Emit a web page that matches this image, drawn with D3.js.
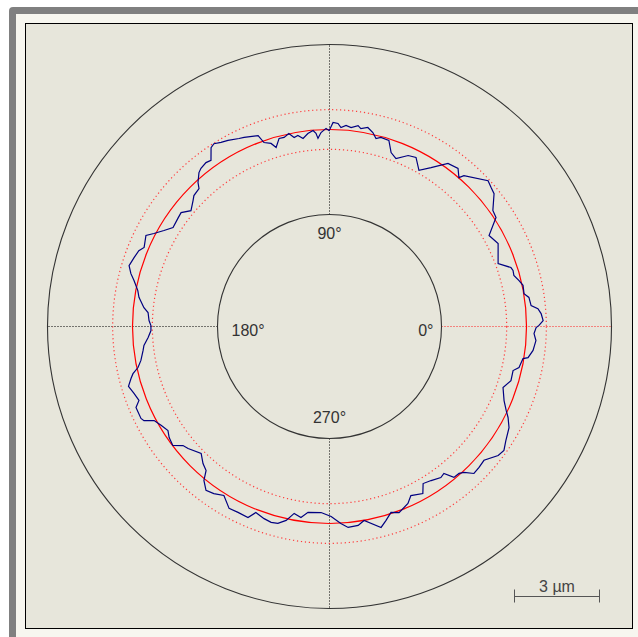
<!DOCTYPE html>
<html>
<head>
<meta charset="utf-8">
<script src="https://cdn.jsdelivr.net/npm/d3@7"></script>
<style>
  html, body { margin: 0; padding: 0; background: #fff; }
  svg { display: block; }
</style>
</head>
<body>
<div id="chart"></div>
<script>
// roundness profile, angle in degrees (ccw from 0°) and deviation in µm
const profileAngle = [
  0.3, 1.6, 3.5, 4.9, 5.9, 8.3, 9.6, 12.0, 13.6, 15.5, 17.0, 18.0, 20.5, 26.2, 29.7,
  33.2, 35.4, 38.9, 40.7, 42.6, 48.3, 49.0, 50.9, 54.0, 57.4, 60.2, 62.9, 65.3, 68.4,
  70.5, 72.3, 74.8, 76.1, 77.4, 79.1, 81.0, 81.9, 83.8, 85.3, 86.7, 87.6, 89.0, 90.1,
  91.0, 92.5, 93.5, 94.0, 94.8, 96.4, 98.0, 99.4, 100.6, 101.9, 103.5, 105.0, 106.6,
  107.7, 109.6, 110.5, 114.3, 115.7, 118.6, 120.5, 122.3, 123.5, 125.5, 127.0, 129.1,
  130.3, 132.4, 133.4, 136.0, 137.3, 140.1, 142.5, 144.5, 147.7, 149.9, 152.1, 153.6,
  156.9, 158.3, 160.6, 163.1, 165.1, 166.8, 169.4, 171.3, 174.2, 175.6, 178.1, 179.7,
  181.3, 183.5, 185.8, 187.3, 190.2, 192.1, 193.5, 194.7, 196.6, 198.9, 201.2, 202.7,
  206.0, 206.9, 208.2, 210.4, 212.8, 214.7, 217.2, 219.1, 220.8, 224.7, 227.3, 229.4,
  230.8, 233.0, 235.3, 238.0, 241.1, 243.8, 246.9, 248.4, 251.2, 253.4, 255.3, 257.4,
  259.3, 261.5, 263.4, 267.4, 270.5, 273.3, 275.3, 278.2, 280.1, 284.4, 286.2, 288.3,
  290.5, 293.9, 295.7, 299.2, 300.8, 303.4, 306.4, 307.9, 309.5, 311.4, 312.7, 314.5,
  316.7, 319.1, 322.6, 324.6, 327.1, 330.6, 333.0, 334.6, 337.0, 340.6, 343.4, 346.5,
  347.8, 350.6, 351.1, 353.3, 356.1, 358.0, 359.7
];
const profileDev = [
  0.44, 0.59, 0.53, 0.43, 0.20, 0.16, 0.01, 0.03, -0.07, -0.20, -0.18, -0.22, -0.60, -0.32, -0.47,
  0.07, 0.12, 0.51, 0.57, 0.65, 0.18, 0.01, 0.24, 0.16, -0.30, -0.60, -0.25, -0.31, -0.58,
  -0.44, -0.06, -0.04, -0.12, 0.06, 0.20, 0.12, 0.21, 0.11, 0.17, 0.08, 0.22, 0.25, -0.04,
  0.04, -0.10, -0.30, -0.12, -0.01, -0.10, -0.25, -0.12, -0.17, 0.01, -0.09, -0.08, -0.36,
  -0.17, -0.06, 0.24, 0.37, 0.41, 0.53, 0.59, 0.68, 0.62, 0.25, 0.29, 0.24,
  0.17, -0.07, -0.25, -0.30, -0.40, -0.58, -0.35, -0.38, -0.42, -0.20, 0.06, 0.28,
  0.16, 0.29, 0.36, 0.44, 0.30, 0.13, -0.07, -0.15, -0.37, -0.53, -0.58, -0.65,
  -0.65, -0.54, -0.37, -0.32, -0.19, -0.04, 0.18, 0.29, 0.45, 0.34, 0.26, 0.45,
  0.45, 0.39, 0.07, -0.06, -0.17, -0.07, -0.01, -0.29, -0.36, -0.58, -0.37, -0.26,
  0.06, 0.29, 0.22, 0.08, 0.38, 0.36, 0.38, 0.11, 0.21, 0.26, 0.23, 0.06,
  -0.24, -0.14, -0.35, -0.38, -0.25, 0.01, 0.17, 0.14, 0.00, 0.37, 0.18, -0.04,
  0.06, -0.12, -0.33, -0.20, -0.50, -0.44, -0.33, -0.38, -0.05, -0.04, 0.05, 0.32,
  0.30, 0.26, 0.54, 0.60, 0.46, 0.32, 0.12, -0.05, -0.26, -0.46, -0.27, -0.29,
  -0.11, -0.03, 0.14, 0.28, 0.35, 0.27, 0.34
];

const ringValues = [-3, 3];          // black circles, µm
const bandValues = [-0.7, 0.7];      // red dotted circles, µm
const axisAngles = [0, 90, 180, 270];
const axisLabels = ["0°", "90°", "180°", "270°"];
const scaleBarValue = 3;             // µm
const scaleBarLabel = "3 µm";

const width = 638, height = 637;
const cx = 329.5, cy = 326.5;

const svg = d3.select("#chart").append("svg")
  .attr("width", width)
  .attr("height", height);

// window frame
svg.append("rect")
  .attr("x", 9).attr("y", 7)
  .attr("width", width).attr("height", height)
  .attr("rx", 4)
  .attr("fill", "#808080");
svg.append("rect")
  .attr("x", 16).attr("y", 14)
  .attr("width", width).attr("height", height)
  .attr("fill", "#f7f6ef");
svg.append("rect")
  .attr("x", 25.5).attr("y", 23.5)
  .attr("width", 607).attr("height", 605)
  .attr("fill", "#e7e6db")
  .attr("stroke", "#000")
  .attr("stroke-width", 1);

// radial scale: µm deviation -> px radius
const r = d3.scaleLinear().domain([-3, 3]).range([112, 282]);

const g = svg.append("g").attr("transform", `translate(${cx},${cy})`);

const toRad = a => (90 - a) * Math.PI / 180;

// dotted axis lines between the inner and outer circle
g.selectAll(".axis")
  .data(axisAngles)
  .enter().append("line")
  .attr("class", "axis")
  .attr("x1", d => r(ringValues[0]) * Math.cos(d * Math.PI / 180))
  .attr("y1", d => -r(ringValues[0]) * Math.sin(d * Math.PI / 180))
  .attr("x2", d => r(ringValues[1]) * Math.cos(d * Math.PI / 180))
  .attr("y2", d => -r(ringValues[1]) * Math.sin(d * Math.PI / 180))
  .attr("stroke", d => d === 0 ? "#ff2020" : "#000")
  .attr("stroke-width", 1)
  .attr("stroke-dasharray", "1,2");

// black limit circles
g.selectAll(".ring")
  .data(ringValues)
  .enter().append("circle")
  .attr("class", "ring")
  .attr("r", d => r(d))
  .attr("fill", "none")
  .attr("stroke", "#333")
  .attr("stroke-width", 1.1);

// tolerance band
g.selectAll(".band")
  .data(bandValues)
  .enter().append("circle")
  .attr("class", "band")
  .attr("r", d => r(d))
  .attr("fill", "none")
  .attr("stroke", "#ff3c3c")
  .attr("stroke-width", 1.2)
  .attr("stroke-dasharray", "1.2,2.8");

// reference circle
g.append("circle")
  .attr("r", r(0))
  .attr("fill", "none")
  .attr("stroke", "#ff0000")
  .attr("stroke-width", 1.2);

// measured profile
const profile = profileAngle.map((a, i) => ({angle: a, dev: profileDev[i]}));
const line = d3.lineRadial()
  .angle(d => toRad(d.angle))
  .radius(d => r(d.dev))
  .curve(d3.curveLinearClosed);

g.append("path")
  .datum(profile)
  .attr("d", line)
  .attr("fill", "none")
  .attr("stroke", "#000080")
  .attr("stroke-width", 1.2);

// angle labels inside the inner circle
const rIn = r(ringValues[0]);
const labelPos = [
  {x: rIn - 8, y: 9, anchor: "end"},
  {x: 0, y: -rIn + 24, anchor: "middle"},
  {x: -rIn + 14, y: 9, anchor: "start"},
  {x: 0, y: rIn - 16, anchor: "middle"}
];
g.selectAll(".alabel")
  .data(axisLabels)
  .enter().append("text")
  .attr("class", "alabel")
  .attr("x", (d, i) => labelPos[i].x)
  .attr("y", (d, i) => labelPos[i].y)
  .attr("text-anchor", (d, i) => labelPos[i].anchor)
  .style("font-family", "'Liberation Sans', Arial, sans-serif")
  .style("font-size", "16px")
  .attr("fill", "#333")
  .text(d => d);

// scale bar
const barLen = r(scaleBarValue) - r(0);
const barX = 514.5, barY = 596.5;
const bar = svg.append("g").attr("stroke", "#555").attr("stroke-width", 1);
bar.append("line").attr("x1", barX).attr("x2", barX + barLen).attr("y1", barY).attr("y2", barY);
bar.append("line").attr("x1", barX).attr("x2", barX).attr("y1", barY - 7).attr("y2", barY + 6);
bar.append("line").attr("x1", barX + barLen).attr("x2", barX + barLen).attr("y1", barY - 7).attr("y2", barY + 6);
svg.append("text")
  .attr("x", barX + barLen / 2)
  .attr("y", 592)
  .attr("text-anchor", "middle")
  .style("font-family", "'Liberation Sans', Arial, sans-serif")
  .style("font-size", "16px")
  .attr("fill", "#444")
  .text(scaleBarLabel);
</script>
</body>
</html>
